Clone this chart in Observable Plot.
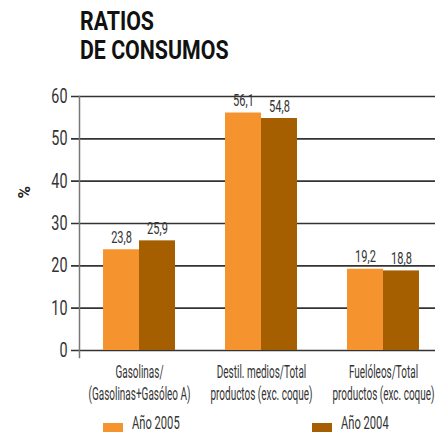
<!DOCTYPE html>
<html>
<head>
<meta charset="utf-8">
<script src="https://cdn.jsdelivr.net/npm/d3@7"></script>
<script src="https://cdn.jsdelivr.net/npm/@observablehq/plot@0.6"></script>
<style>
  html, body { margin: 0; padding: 0; background: #fff; }
  #wrap { position: relative; width: 435px; height: 432px; overflow: hidden; font-family: Roboto, sans-serif; color: #333; }
  #title { position: absolute; left: 80px; top: 7px; font-size: 26px; line-height: 29px; font-weight: bold; color: #111; transform: scaleX(0.82); transform-origin: left top; white-space: nowrap; }
  .layer { position: absolute; left: 0; top: 80px; }
  .leg { position: absolute; top: 0; height: 432px; }
  .leg .sw { position: absolute; left: 0; top: 423px; width: 20px; height: 17px; }
  .leg .tx { position: absolute; left: 29px; top: 414px; font-size: 18px; line-height: 18px; white-space: nowrap; transform: scaleX(0.62); transform-origin: left top; color: #333; }
</style>
</head>
<body>
<div id="wrap">
  <div id="title">RATIOS<br>DE CONSUMOS</div>
  <div id="back" class="layer"></div>
  <div id="front" class="layer"></div>
  <div id="legend"></div>
</div>
<script>
const FONT = 'Roboto, sans-serif';
const categories = ["Gasolinas/\n(Gasolinas+Gasóleo A)", "Destil. medios/Total\nproductos (exc. coque)", "Fuelóleos/Total\nproductos (exc. coque)"];
const years = ["Año 2005", "Año 2004"];
const values2005 = [23.8, 56.1, 19.2];
const values2004 = [25.9, 54.8, 18.8];
const yTicks = [0, 10, 20, 30, 40, 50, 60];
const colors = ["#F5942E", "#A55E00"];

const data = categories.flatMap((c, i) => [
  {cat: c, year: years[0], v: values2005[i]},
  {cat: c, year: years[1], v: values2004[i]}
]);
const fmt = v => v.toFixed(1).replace(".", ",");

const common = {
  height: 330,
  marginLeft: 79, marginRight: 0, marginTop: 16, marginBottom: 60,
  y: {domain: [0, 60], axis: null},
};
const baseStyle = {fontFamily: FONT, fontSize: "15px", color: "#333", background: "transparent", overflow: "visible", maxWidth: "none"};

// Background layer: grid, y axis, "%" label
const back = Plot.plot({
  ...common,
  width: 435,
  style: baseStyle,
  marks: [
    Plot.ruleY(yTicks, {stroke: "#333", strokeWidth: 1.6, insetLeft: -8}),
    Plot.frame({anchor: "left", stroke: "#777", strokeWidth: 1.5, insetBottom: -7}),
    Plot.axisY(yTicks, {anchor: "left", tickSize: 0, tickPadding: 12, fontSize: 20, label: null, fill: "#333", ariaLabel: "ytick"}),
    Plot.text(["%"], {frameAnchor: "left", dx: -55, dy: -25, rotate: -90, fontWeight: "bold", fontSize: 17, fill: "#222"})
  ]
});
document.getElementById("back").appendChild(back);

// Front layer: grouped bars, value labels, category axis
const front = Plot.plot({
  ...common,
  width: 443,
  style: baseStyle,
  fx: {domain: categories, paddingInner: 0.41, paddingOuter: 0.197, round: false, label: null, axis: null},
  x: {domain: years, padding: 0, round: false, axis: null},
  color: {domain: years, range: colors},
  marks: [
    Plot.barY(data, {fx: "cat", x: "year", y: "v", fill: "year"}),
    Plot.text(data, {fx: "cat", x: "year", y: "v", text: d => fmt(d.v), dy: -7, lineAnchor: "bottom", fontSize: 17, fill: "#333", ariaLabel: "vlabel"}),
    Plot.axisFx({anchor: "bottom", tickSize: 0, tickPadding: 12, fontSize: 17.5, lineHeight: 1.26, label: null, fill: "#333", ariaLabel: "fxtick"})
  ]
});
document.getElementById("front").appendChild(front);

// Condense the SVG texts horizontally (narrow typeface look)
const scaleFor = el => {
  const g = el.closest("g[aria-label]");
  const a = g ? g.getAttribute("aria-label") : "";
  if (a.includes("ytick")) return 0.72;
  if (a.includes("fxtick")) return 0.57;
  return 0.65;
};
[back, front].forEach(svg => {
  svg.querySelectorAll("text").forEach(el => {
    const t = el.getAttribute("transform") || "";
    if (t.includes("rotate")) return;
    const S = scaleFor(el);
    const x = +el.getAttribute("x") || 0;
    el.setAttribute("transform", `${t} translate(${x},0) scale(${S},1) translate(${-x},0)`);
  });
});

const legend = document.getElementById("legend");
const legX = [103, 312];
years.forEach((y, i) => {
  const d = document.createElement("div");
  d.className = "leg";
  d.style.left = legX[i] + "px";
  d.innerHTML = `<span class="sw" style="background:${colors[i]}"></span><span class="tx">${y}</span>`;
  legend.appendChild(d);
});
</script>
</body>
</html>
